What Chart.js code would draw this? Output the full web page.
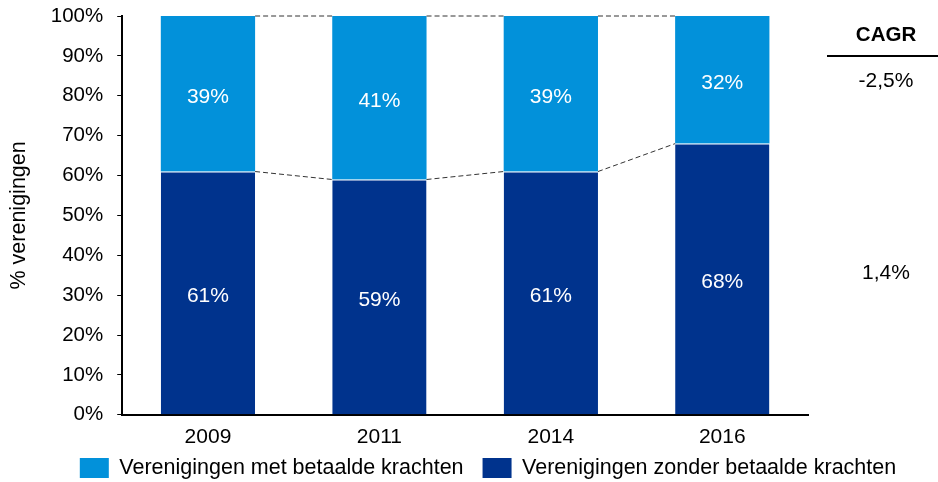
<!DOCTYPE html>
<html>
<head>
<meta charset="utf-8">
<script src="https://cdn.jsdelivr.net/npm/chart.js@4.4.1/dist/chart.umd.min.js"></script>
<style>
  html, body { margin: 0; padding: 0; background: #fff; }
  #wrap { width: 938px; height: 482px; }
</style>
</head>
<body>
<div id="wrap"><canvas id="myChart"></canvas></div>
<script>
// Share of associations with / without paid staff per survey year
var years = ["2009", "2011", "2014", "2016"];
var zonderBetaald = [61, 59, 61, 68];
var metBetaald = [39, 41, 39, 32];
var cagrLabels = ["-2,5%", "1,4%"];

var lightBlue = "#0291DA";
var darkBlue = "#00338D";
var fontFamily = "'Liberation Sans', Arial, sans-serif";

// White percentage labels in the middle of every segment
var segmentLabels = {
    id: "segmentLabels",
    afterDatasetsDraw: function (chart) {
        var ctx = chart.ctx;
        ctx.save();
        ctx.fillStyle = "#ffffff";
        ctx.font = "21px " + fontFamily;
        ctx.textAlign = "center";
        ctx.textBaseline = "middle";
        chart.data.datasets.forEach(function (ds, di) {
            chart.getDatasetMeta(di).data.forEach(function (bar, i) {
                var mid = (bar.y + bar.base) / 2 + 3;
                ctx.fillText(ds.data[i] + "%", bar.x, mid);
            });
        });
        ctx.restore();
    }
};

// Dashed lines joining the segment tops of neighbouring bars
var connectors = {
    id: "connectors",
    afterDatasetsDraw: function (chart) {
        var ctx = chart.ctx;
        var yScale = chart.scales.y;
        var bars = chart.getDatasetMeta(0).data;
        ctx.save();
        ctx.strokeStyle = "#333333";
        ctx.lineWidth = 1;
        ctx.setLineDash([5, 3]);
        for (var i = 0; i < bars.length - 1; i++) {
            var x1 = bars[i].x + bars[i].width / 2;
            var x2 = bars[i + 1].x - bars[i + 1].width / 2;
            ctx.beginPath();
            ctx.moveTo(x1, yScale.getPixelForValue(zonderBetaald[i]));
            ctx.lineTo(x2, yScale.getPixelForValue(zonderBetaald[i + 1]));
            ctx.moveTo(x1, yScale.getPixelForValue(100));
            ctx.lineTo(x2, yScale.getPixelForValue(100));
            ctx.stroke();
        }
        ctx.restore();
    }
};

// CAGR column on the right of the plot
var cagrColumn = {
    id: "cagrColumn",
    afterDraw: function (chart) {
        var ctx = chart.ctx;
        var cx = 886;
        ctx.save();
        ctx.fillStyle = "#000000";
        ctx.textAlign = "center";
        ctx.textBaseline = "middle";
        ctx.font = "bold 20.5px " + fontFamily;
        ctx.fillText("CAGR", cx, 35);
        ctx.strokeStyle = "#000000";
        ctx.lineWidth = 2;
        ctx.beginPath();
        ctx.moveTo(827, 56);
        ctx.lineTo(938, 56);
        ctx.stroke();
        ctx.font = "21px " + fontFamily;
        ctx.fillText(cagrLabels[0], cx, 81);
        ctx.fillText(cagrLabels[1], cx, 273);
        ctx.restore();
    }
};

// Legend row under the axis: light series first, then dark
var bottomLegend = {
    id: "bottomLegend",
    afterDraw: function (chart) {
        var ctx = chart.ctx;
        var boxW = 29, boxH = 20, textGap = 10.5, itemGap = 19;
        var cy = 468, centerX = 488;
        var items = chart.data.datasets.slice().reverse();
        ctx.save();
        ctx.font = "21.5px " + fontFamily;
        ctx.textBaseline = "middle";
        ctx.textAlign = "left";
        var total = 0;
        items.forEach(function (ds, i) {
            total += boxW + textGap + ctx.measureText(ds.label).width;
            if (i > 0) total += itemGap;
        });
        var x = centerX - total / 2;
        items.forEach(function (ds) {
            ctx.fillStyle = ds.backgroundColor;
            ctx.fillRect(x, cy - boxH / 2, boxW, boxH);
            x += boxW + textGap;
            ctx.fillStyle = "#000000";
            ctx.fillText(ds.label, x, cy);
            x += ctx.measureText(ds.label).width + itemGap;
        });
        ctx.restore();
    }
};

var ctx = document.getElementById("myChart");

var myChart = new Chart(ctx, {
    type: "bar",
    data: {
        labels: years,
        datasets: [{
            label: "Verenigingen zonder betaalde krachten",
            data: zonderBetaald,
            backgroundColor: darkBlue,
            borderColor: "#ffffff",
            borderWidth: { top: 1 },
            borderSkipped: false,
            barPercentage: 0.55,
            categoryPercentage: 1
        }, {
            label: "Verenigingen met betaalde krachten",
            data: metBetaald,
            backgroundColor: lightBlue,
            barPercentage: 0.55,
            categoryPercentage: 1
        }]
    },
    options: {
        responsive: true,
        maintainAspectRatio: false,
        animation: false,
        layout: {
            padding: { top: 0, right: 130, left: 6, bottom: 22 }
        },
        plugins: {
            legend: { display: false },
            tooltip: { enabled: false }
        },
        scales: {
            x: {
                stacked: true,
                grid: { display: false, drawTicks: false },
                border: { color: "#000000", width: 2 },
                ticks: {
                    color: "#000000",
                    font: { family: fontFamily, size: 21 },
                    padding: 10
                }
            },
            y: {
                stacked: true,
                min: 0,
                max: 100,
                // keep only room for half of the "100%" label above the plot
                afterFit: function (scale) {
                    scale.paddingTop = 16;
                },
                grid: {
                    display: true,
                    drawOnChartArea: false,
                    drawTicks: true,
                    tickLength: 5,
                    color: "#000000"
                },
                border: { color: "#000000", width: 2 },
                ticks: {
                    stepSize: 10,
                    color: "#000000",
                    font: { family: fontFamily, size: 20.5 },
                    padding: 14,
                    callback: function (v) { return v + "%"; }
                },
                title: {
                    display: true,
                    text: "% verenigingen",
                    color: "#000000",
                    font: { family: fontFamily, size: 21.5 },
                    padding: { top: 0, bottom: 5 }
                }
            }
        }
    },
    plugins: [segmentLabels, connectors, cagrColumn, bottomLegend]
});
</script>
</body>
</html>
